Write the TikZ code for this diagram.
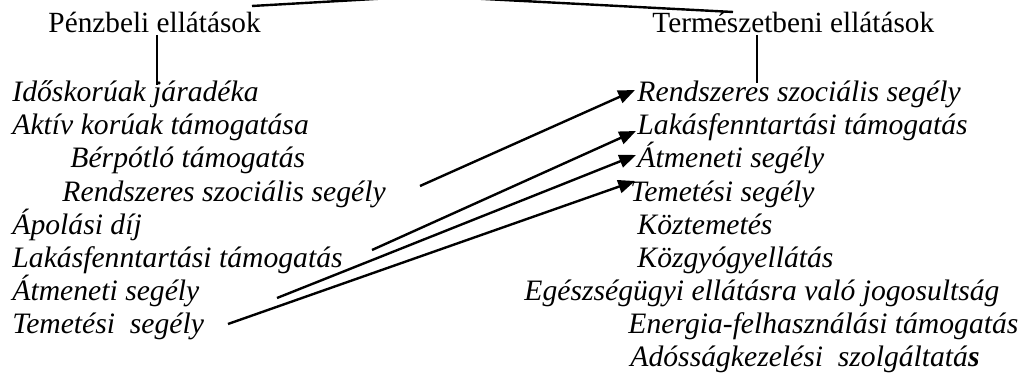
\documentclass[tikz,border=0pt]{standalone}
\usepackage{fontspec}
\setmainfont{Liberation Serif}
\usetikzlibrary{calc,arrows.meta}

\tikzset{
  head/.style={anchor=base west, inner sep=0pt, font=\fontsize{12.2}{14}\selectfont},
  item/.style={anchor=base west, inner sep=0pt, font=\fontsize{12.35}{14}\selectfont\itshape},
  link/.style={line width=1pt},
  pointer/.style={line width=1pt, -{Triangle[length=7pt,width=5.5pt]}}
}

\begin{document}
\begin{tikzpicture}[x=0.4167pt,y=-0.4167pt]
		%%%%% START %%%%%
		\useasboundingbox (0,0) rectangle (1019,376);
		\clip (0,0) rectangle (1019,376);
		
		\node[head] (penz) at (48,33) {Pénzbeli ellátások};
		\node[head] (term) at (652,33) {Természetbeni ellátások};
		\coordinate (root) at (427,-4);
		
		\draw[link] ($(penz.base west)+(204,-27)$) -- (root);
		\draw[link] ($(term.base west)+(81,-21)$) -- (root);
		
		% penzbeli
		\node[item] (ido) at (12,102) {Időskorúak járadéka};
		\node[item] (aktiv) at (12,135) {Aktív korúak támogatása};
		\node[item] (berp) at (70,168) {Bérpótló támogatás};
		\node[item] (lrsz) at (62,202) {Rendszeres szociális segély};
		\node[item] (apol) at (12,235) {Ápolási díj};
		\node[item] (llak) at (12,268) {Lakásfenntartási támogatás};
		\node[item] (latm) at (12,301) {Átmeneti segély};
		\node[item] (ltem) at (12,334) {Temetési\ \ segély};
		
		% termeszetbeni
		\node[item] (rrsz) at (637,102) {Rendszeres szociális segély};
		\node[item] (rlak) at (637,135) {Lakásfenntartási támogatás};
		\node[item] (ratm) at (637,168) {Átmeneti segély};
		\node[item] (rtem) at (630,202) {Temetési segély};
		\node[item] (rkoz) at (637,235) {Köztemetés};
		\node[item] (rkgy) at (637,268) {Közgyógyellátás};
		\node[item] (reg) at (524,301) {Egészségügyi ellátásra való jogosultság};
		\node[item] (ren) at (628,334) {Energia-felhasználási támogatás};
		\node[item] (rado) at (630,367) {Adósságkezelési\ \ szolgáltatá\textbf{s}};
		
		\draw[link] ($(penz.base west)+(109,2)$) -- ($(ido.base west)+(145,-17)$);
		\draw[link] ($(term.base west)+(105,2)$) -- ($(rrsz.base west)+(120,-19)$);
		
		\draw[pointer] ($(lrsz.base west)+(358,-16)$) -- ($(rrsz.base west)+(-2,-12)$);
		\draw[pointer] ($(llak.base west)+(360,-18)$) -- ($(rlak.base west)+(-1,-4)$);
		\draw[pointer] ($(latm.base west)+(265,-3)$) -- ($(ratm.base west)+(-1,-13)$);
		\draw[pointer] ($(ltem.base west)+(216,-10)$) -- ($(rtem.base west)+(5,-21)$);
		
		%%%%% END %%%%%
	\end{tikzpicture}
\end{document}
